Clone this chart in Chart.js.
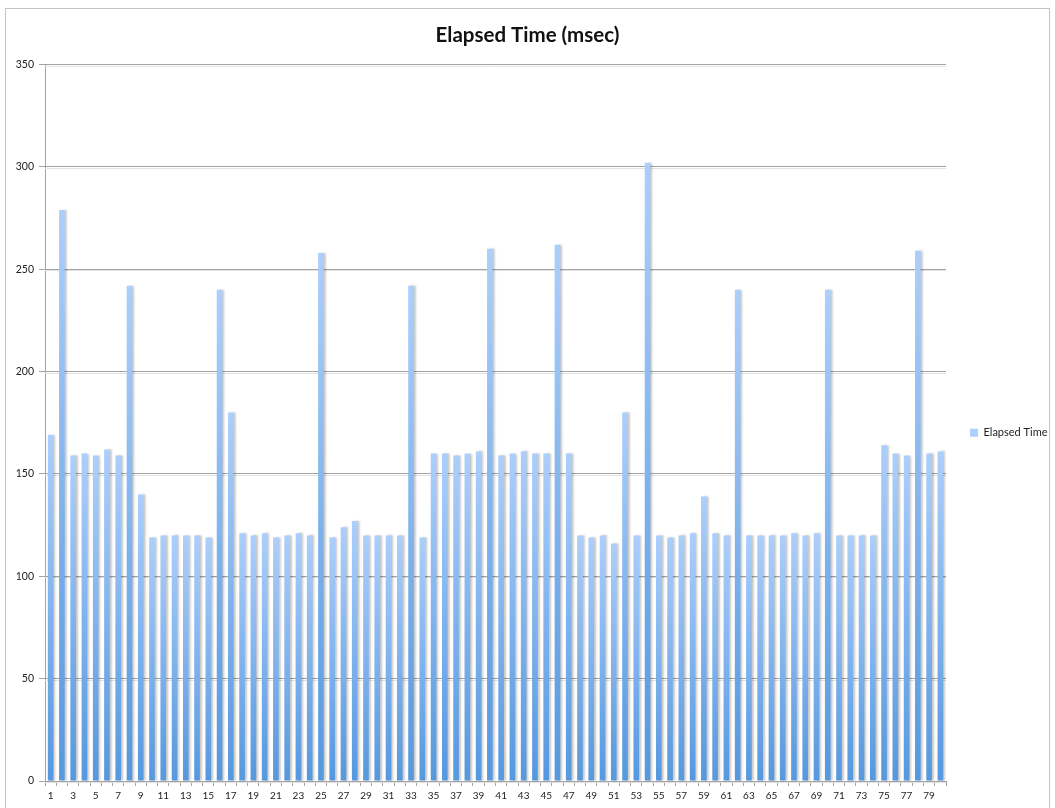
<!DOCTYPE html>
<html>
<head>
<meta charset="utf-8">
<script src="https://cdn.jsdelivr.net/npm/chart.js@4"></script>
<style>
  html, body { margin: 0; padding: 0; background: #fff; }
  #wrap { position: absolute; left: 0; top: 0; width: 1055px; height: 808px; }
</style>
</head>
<body>
<div id="wrap"><canvas id="graph-1"></canvas></div>
<script>
// run numbers 1..80 along the bottom
const categories = Array.from({ length: 80 }, (_, i) => String(i + 1));

// elapsed time per run, msec
const elapsedMs = [
  169, 279, 159, 160, 159, 162, 159, 242, 140, 119,
  120, 120, 120, 120, 119, 240, 180, 121, 120, 121,
  119, 120, 121, 120, 258, 119, 124, 127, 120, 120,
  120, 120, 242, 119, 160, 160, 159, 160, 161, 260,
  159, 160, 161, 160, 160, 262, 160, 120, 119, 120,
  116, 180, 120, 302, 120, 119, 120, 121, 139, 121,
  120, 240, 120, 120, 120, 120, 121, 120, 121, 240,
  120, 120, 120, 120, 164, 160, 159, 259, 160, 161
];

const yTicks = [0, 50, 100, 150, 200, 250, 300, 350];

const FONT = 'Lato, "Open Sans", sans-serif';
const GRID = '#a3a3a3';
const FLAT = '#7fb0ec';

// each bar gets its own light-to-dark vertical gradient
function barFill(ctx) {
  if (ctx.type !== 'data') return FLAT;
  const chart = ctx.chart;
  const y = chart.scales && chart.scales.y;
  if (!y) return FLAT;
  const top = y.getPixelForValue(ctx.raw);
  const bottom = y.getPixelForValue(0);
  if (!isFinite(top) || !isFinite(bottom) || top === bottom) return FLAT;
  const g = chart.ctx.createLinearGradient(0, top, 0, bottom);
  g.addColorStop(0, '#accffc');
  g.addColorStop(1, '#5698de');
  return g;
}

const framePlugin = {
  id: 'frame',
  beforeDraw(chart) {
    const c = chart.ctx;
    c.save();
    c.strokeStyle = '#c4c4c4';
    c.lineWidth = 1;
    c.strokeRect(5.5, 8.5, 1044, 812);
    c.restore();
  }
};

// soft line under each gridline, then a drop shadow on the bars
const shadowPlugin = {
  id: 'shadows',
  beforeDatasetsDraw(chart) {
    const c = chart.ctx;
    const { left, right } = chart.chartArea;
    const y = chart.scales.y;
    c.save();
    c.strokeStyle = '#e2e2e2';
    c.lineWidth = 1;
    y.ticks.forEach(t => {
      const py = Math.round(y.getPixelForValue(t.value)) + 1.5;
      c.beginPath();
      c.moveTo(left, py);
      c.lineTo(right, py);
      c.stroke();
    });
    c.restore();
    c.save();
    c.shadowColor = 'rgba(0,0,0,0.22)';
    c.shadowOffsetX = 2;
    c.shadowOffsetY = 0;
    c.shadowBlur = 2;
  },
  afterDatasetsDraw(chart) {
    chart.ctx.restore();
  }
};

const data = {
  labels: categories,
  datasets: [
    {
      label: 'Elapsed Time',
      data: elapsedMs,
      backgroundColor: barFill,
      borderWidth: 0,
      barPercentage: 0.5,
      categoryPercentage: 1.0
    }
  ]
};

const config = {
  type: 'bar',
  data: data,
  plugins: [framePlugin, shadowPlugin],
  options: {
    responsive: false,
    animation: false,
    layout: { padding: { left: 0, right: 0, top: 0, bottom: 5 } },
    plugins: {
      legend: {
        position: 'right',
        maxWidth: 109,
        // empty title only pushes the entry down a little
        title: { display: true, text: '', padding: { top: 48, bottom: 0 } },
        labels: {
          boxWidth: 8,
          boxHeight: 8,
          padding: 24,
          color: '#222',
          font: { family: FONT, size: 11 }
        }
      },
      title: {
        display: true,
        text: 'Elapsed Time (msec)',
        color: '#111',
        font: { family: FONT, size: 20.5, weight: 'bold' },
        padding: { top: 23, bottom: 17 }
      },
      tooltip: { enabled: false }
    },
    scales: {
      x: {
        offset: true,
        grid: {
          offset: true,
          drawOnChartArea: false,
          drawTicks: true,
          tickLength: 5,
          color: GRID
        },
        border: { color: GRID },
        ticks: {
          autoSkip: false,
          maxRotation: 0,
          minRotation: 0,
          padding: 4,
          color: '#222',
          font: { family: FONT, size: 10 },
          callback: (v, i) => (i % 2 === 0 ? categories[i] : '')
        },
        afterFit: s => { s.height = 22; }
      },
      y: {
        min: yTicks[0],
        max: yTicks[yTicks.length - 1],
        afterBuildTicks: s => { s.ticks = yTicks.map(v => ({ value: v })); },
        grid: { color: GRID, lineWidth: 1, tickLength: 6 },
        border: { color: GRID },
        ticks: {
          padding: 5,
          color: '#222',
          font: { family: FONT, size: 10.5 }
        },
        afterFit: s => { s.width = 45; }
      }
    }
  }
};

const canvas = document.querySelector('#graph-1');
canvas.width = 1055;
canvas.height = 808;
const chart = new Chart(canvas, config);
</script>
</body>
</html>
